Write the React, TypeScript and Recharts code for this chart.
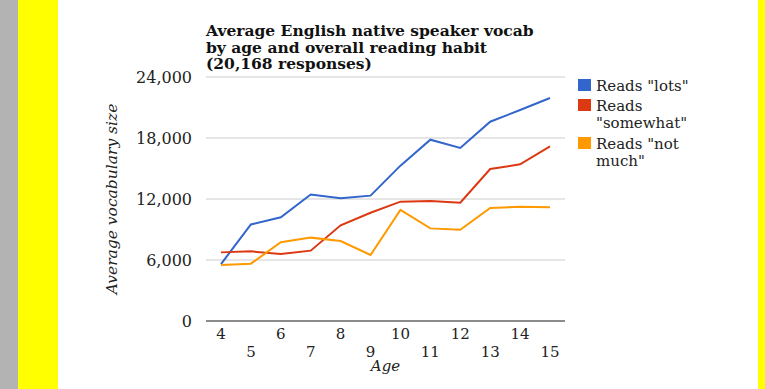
import React from "react";
import { LineChart, Line, XAxis, YAxis, CartesianGrid, Label } from "recharts";

const ages = ["4", "5", "6", "7", "8", "9", "10", "11", "12", "13", "14", "15"];
const readsLots = [5600, 9500, 10200, 12450, 12070, 12330, 15280, 17830, 17020, 19600, 20750, 21930];
const readsSomewhat = [6750, 6850, 6590, 6920, 9410, 10650, 11740, 11800, 11640, 14950, 15410, 17180];
const readsNotMuch = [5510, 5640, 7740, 8200, 7870, 6490, 10920, 9110, 8980, 11110, 11240, 11180];
const yTicks = [0, 6000, 12000, 18000, 24000];

const SERIES = [
  { key: "lots", name: 'Reads "lots"', lines: ['Reads "lots"'], color: "#3366cc" },
  { key: "somewhat", name: 'Reads "somewhat"', lines: ["Reads", '"somewhat"'], color: "#dc3912" },
  { key: "notMuch", name: 'Reads "not much"', lines: ['Reads "not', 'much"'], color: "#ff9900" },
];

const data = ages.map((age, i) => ({
  age,
  lots: readsLots[i],
  somewhat: readsSomewhat[i],
  notMuch: readsNotMuch[i],
}));

const FONT = '"DejaVu Serif", Georgia, serif';

// alternate the age labels over two rows, like the original
const AgeTick = ({ x, y, payload, index }: any) => (
  <text
    x={x}
    y={y + (index % 2 ? 34 : 16)}
    textAnchor="middle"
    fontFamily={FONT}
    fontSize={15}
    fill="#222"
  >
    {payload.value}
  </text>
);

const LegendBox = () => (
  <div style={{ fontFamily: FONT, fontSize: 15, color: "#222", lineHeight: "17px" }}>
    {SERIES.map((s, i) => (
      <div key={s.key} style={{ display: "flex", marginBottom: i === 0 ? 3 : 4 }}>
        <span style={{ width: 13, height: 12, background: s.color, marginTop: 1, marginRight: 5, flexShrink: 0 }} />
        <span>
          {s.lines.map((l) => (
            <div key={l}>{l}</div>
          ))}
        </span>
      </div>
    ))}
  </div>
);

export default function App() {
  return (
    <div style={{ position: "absolute", left: 0, top: 0, width: 765, height: 389, background: "#fff", overflow: "hidden" }}>
      <div style={{ position: "absolute", left: 0, top: 0, width: 18, height: 389, background: "#b3b3b3" }} />
      <div style={{ position: "absolute", left: 18, top: 0, width: 40, height: 389, background: "#ffff00" }} />
      <div style={{ position: "absolute", left: 758, top: 0, width: 7, height: 389, background: "#ffff00" }} />

      <div
        style={{
          position: "absolute",
          left: 206,
          top: 23,
          fontFamily: FONT,
          fontWeight: "bold",
          fontSize: 15.5,
          lineHeight: "16.5px",
          color: "#111",
          whiteSpace: "nowrap",
        }}
      >
        <div>Average English native speaker vocab</div>
        <div>by age and overall reading habit</div>
        <div>(20,168 responses)</div>
      </div>

      <div style={{ position: "absolute", left: 0, top: 0 }}>
        <LineChart width={765} height={389} data={data} margin={{ top: 77, right: 200, bottom: 18, left: 146 }}>
          <CartesianGrid vertical={false} stroke="#cccccc" />
          <XAxis
            dataKey="age"
            interval={0}
            tick={<AgeTick />}
            tickSize={0}
            tickLine={false}
            axisLine={{ stroke: "#333" }}
            padding={{ left: 15, right: 15 }}
            height={50}
          >
            <Label
              value="Age"
              position="insideBottom"
              offset={0}
              style={{ fontFamily: FONT, fontStyle: "italic", fontSize: 15, fill: "#222" }}
            />
          </XAxis>
          <YAxis
            domain={[0, 24000]}
            ticks={yTicks}
            width={60}
            tickSize={0}
            tickMargin={14}
            axisLine={false}
            tickLine={false}
            tickFormatter={(v: number) => v.toLocaleString("en-US")}
            tick={{ fontFamily: FONT, fontSize: 16, fill: "#222" }}
          >
            <Label
              value="Average vocabulary size"
              angle={-90}
              position="left"
              offset={35}
              style={{ textAnchor: "middle", fontFamily: FONT, fontStyle: "italic", fontSize: 15.5, fill: "#222" }}
            />
          </YAxis>
          {SERIES.map((s) => (
            <Line
              key={s.key}
              type="linear"
              dataKey={s.key}
              name={s.name}
              stroke={s.color}
              strokeWidth={2}
              dot={false}
              isAnimationActive={false}
            />
          ))}
        </LineChart>
      </div>

      <div style={{ position: "absolute", left: 578, top: 78, width: 160 }}>
        <LegendBox />
      </div>
    </div>
  );
}
